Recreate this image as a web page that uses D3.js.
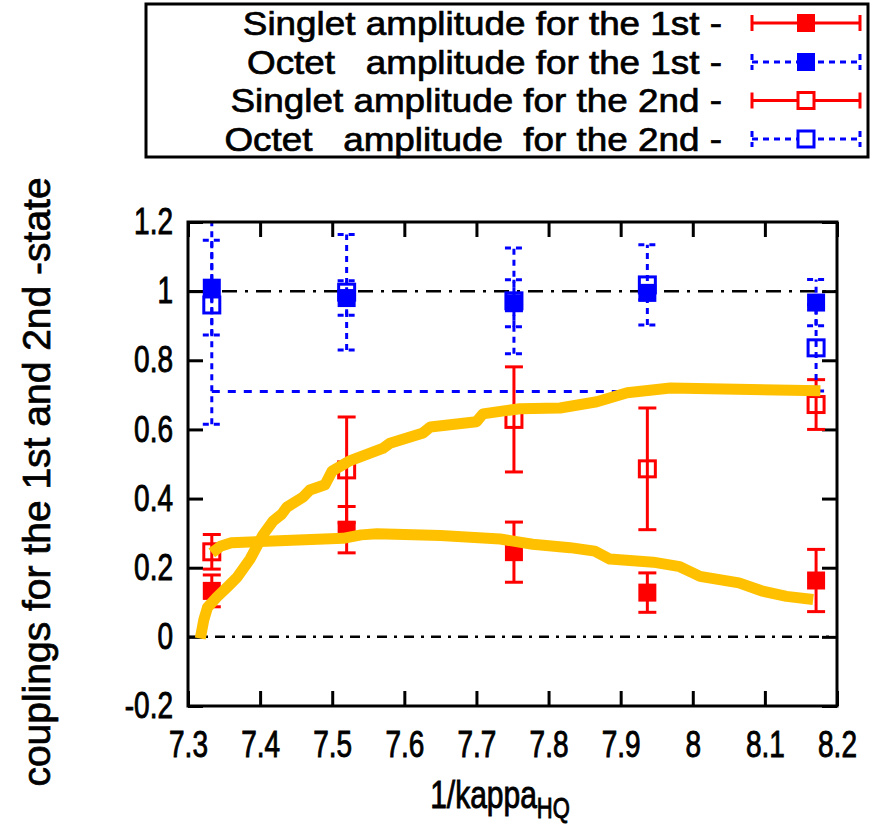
<!DOCTYPE html>
<html><head><meta charset="utf-8">
<script src="https://cdn.jsdelivr.net/npm/d3@7"></script>
<style>
body{margin:0;background:#fff}
text{font-family:"Liberation Sans",Arial,Helvetica,sans-serif;fill:#000;stroke:#000;stroke-width:0.7px}
</style>
</head><body>
<svg id="c" width="882" height="824"></svg>
<script>
// ---- data ----
const xVals = [7.333, 7.52, 7.752, 7.937, 8.171];
const singlet1 = [0.133, 0.31, 0.245, 0.128, 0.163];
const singlet1Err = [0.046, 0.067, 0.087, 0.057, 0.09];
const octet1 = [1.01, 0.98, 0.965, 0.995, 0.967];
const octet1Err = [0.137, 0.05, 0.068, 0.02, 0.067];
const singlet2 = [0.246, 0.483, 0.629, 0.486, 0.672];
const singlet2Err = [0.05, 0.153, 0.152, 0.176, 0.072];
const octet2 = [0.96, 0.997, 0.972, 1.018, 0.836];
const octet2Err = [0.345, 0.167, 0.153, 0.116, 0.125];
const octetGuideX = [7.333, 8.171];
const octetGuideY = [0.71, 0.71];
const riseX = [7.317, 7.322, 7.327, 7.34, 7.355, 7.368, 7.386, 7.404, 7.418, 7.43, 7.437, 7.46, 7.469, 7.49, 7.5, 7.525, 7.57, 7.58, 7.626, 7.636, 7.70, 7.709, 7.76, 7.816, 7.867, 7.909, 7.969, 8.177];
const riseY = [-0.005, 0.05, 0.085, 0.115, 0.145, 0.172, 0.225, 0.295, 0.335, 0.355, 0.375, 0.405, 0.425, 0.44, 0.48, 0.51, 0.545, 0.56, 0.59, 0.607, 0.622, 0.645, 0.66, 0.662, 0.68, 0.706, 0.72, 0.712];
const flatX = [7.333, 7.345, 7.36, 7.4, 7.515, 7.54, 7.562, 7.65, 7.733, 7.778, 7.83, 7.864, 7.885, 7.945, 7.982, 8.0, 8.01, 8.064, 8.097, 8.13, 8.167];
const flatY = [0.243, 0.262, 0.272, 0.276, 0.285, 0.295, 0.298, 0.293, 0.283, 0.268, 0.258, 0.248, 0.225, 0.216, 0.203, 0.185, 0.175, 0.156, 0.132, 0.117, 0.108];
const refLines = [1, 0];
const xTicks = [7.3, 7.4, 7.5, 7.6, 7.7, 7.8, 7.9, 8.0, 8.1, 8.2];
const yTicks = [-0.2, 0, 0.2, 0.4, 0.6, 0.8, 1.0, 1.2];
const legendLabels = ["Singlet amplitude for the 1st -", "Octet   amplitude for the 1st -", "Singlet amplitude for the 2nd -", "Octet   amplitude  for the 2nd -"];
const xLabel = "1/kappa";
const xLabelSub = "HQ";
const yLabel = "couplings for the 1st and 2nd -state";

// ---- layout ----
const L = 188, R = 837, T = 222, B = 706;
const RED = "#ff0000", BLUE = "#0000ff", GOLD = "#ffc000";
const svg = d3.select("#c");
const x = d3.scaleLinear().domain([7.3, 8.2]).range([L, R]);
const y = d3.scaleLinear().domain([-0.2, 1.2]).range([B, T]);
const fmt = d => String(+d.toFixed(1));
const stretch = (cy, k) => `translate(0,${cy}) scale(1,${k}) translate(0,${-cy})`;
const widen = (ax, k) => `translate(${ax},0) scale(${k},1) translate(${-ax},0)`;

svg.append("defs").append("clipPath").attr("id", "clip")
  .append("rect").attr("x", L).attr("y", T).attr("width", R - L).attr("height", B - T);

// axes
function styleAxis(g) {
  g.select(".domain").remove();
  g.selectAll(".tick line").attr("stroke", "#000").attr("stroke-width", 3);
  g.selectAll(".tick text").attr("font-size", 28).attr("fill", "#000")
    .attr("font-family", '"Liberation Sans",Arial,sans-serif');
}
svg.append("g").attr("transform", `translate(0,${B})`)
  .call(d3.axisBottom(x).tickValues(xTicks).tickFormat(fmt).tickSize(-15).tickPadding(28).tickSizeOuter(0))
  .call(styleAxis)
  .call(g => g.selectAll(".tick text").attr("transform", stretch(38, 1.3)));
svg.append("g").attr("transform", `translate(0,${T})`)
  .call(d3.axisTop(x).tickValues(xTicks).tickFormat("").tickSize(-15).tickSizeOuter(0))
  .call(styleAxis);
svg.append("g").attr("transform", `translate(${L},0)`)
  .call(d3.axisLeft(y).tickValues(yTicks).tickFormat(fmt).tickSize(-15).tickPadding(15).tickSizeOuter(0))
  .call(styleAxis)
  .call(g => g.selectAll(".tick text").attr("transform", "scale(1,1.3)"));
svg.append("g").attr("transform", `translate(${R},0)`)
  .call(d3.axisRight(y).tickValues(yTicks).tickFormat("").tickSize(-15).tickSizeOuter(0))
  .call(styleAxis);

// reference dash-dot lines
svg.append("g").selectAll("line").data(refLines).join("line")
  .attr("x1", L).attr("x2", R).attr("y1", d => y(d)).attr("y2", d => y(d))
  .attr("stroke", "#000").attr("stroke-width", 2.5)
  .attr("stroke-dasharray", d => d === 1 ? "15,8,3,8" : "10,7,3,7");

const plot = svg.append("g").attr("clip-path", "url(#clip)");

// blue guide line
plot.append("path")
  .attr("d", d3.line()(octetGuideX.map((d, i) => [x(d), y(octetGuideY[i])])))
  .attr("fill", "none").attr("stroke", BLUE).attr("stroke-width", 3).attr("stroke-dasharray", "8,8");

function series(vals, errs, color, dash, filled) {
  const g = plot.append("g");
  const cap = 9;
  xVals.forEach((xv, i) => {
    const cx = x(xv), lo = y(vals[i] - errs[i]), hi = y(vals[i] + errs[i]);
    const eg = g.append("g").attr("stroke", color).attr("stroke-width", 3).attr("fill", "none");
    if (dash) eg.attr("stroke-dasharray", dash);
    eg.append("line").attr("x1", cx).attr("x2", cx).attr("y1", lo).attr("y2", hi);
    eg.append("line").attr("x1", cx - cap).attr("x2", cx + cap).attr("y1", lo).attr("y2", lo);
    eg.append("line").attr("x1", cx - cap).attr("x2", cx + cap).attr("y1", hi).attr("y2", hi);
    const cy = y(vals[i]);
    if (filled) {
      g.append("rect").attr("x", cx - 9).attr("y", cy - 9).attr("width", 18).attr("height", 18).attr("fill", color);
    } else {
      g.append("rect").attr("x", cx - 8).attr("y", cy - 8).attr("width", 16).attr("height", 16)
        .attr("fill", "none").attr("stroke", color).attr("stroke-width", 3);
    }
  });
}
series(singlet1, singlet1Err, RED, null, true);
series(octet1, octet1Err, BLUE, "6,5", true);
series(singlet2, singlet2Err, RED, null, false);
series(octet2, octet2Err, BLUE, "6,5", false);

// gold curves
const line = d3.line().x(d => x(d[0])).y(d => y(d[1]));
[[riseX, riseY], [flatX, flatY]].forEach(([xs, ys]) => {
  plot.append("path").attr("d", line(xs.map((d, i) => [d, ys[i]])))
    .attr("fill", "none").attr("stroke", GOLD).attr("stroke-width", 11)
    .attr("stroke-linejoin", "round").attr("stroke-linecap", "butt");
});

// frame
svg.append("rect").attr("x", L).attr("y", T).attr("width", R - L).attr("height", B - T)
  .attr("fill", "none").attr("stroke", "#000").attr("stroke-width", 3);

// legend
const lg = svg.append("g");
lg.append("rect").attr("x", 146).attr("y", 4).attr("width", 722).attr("height", 153)
  .attr("fill", "#fff").attr("stroke", "#000").attr("stroke-width", 3);
const legendStyles = [
  {c: RED, dash: null, filled: true},
  {c: BLUE, dash: "6,5", filled: true},
  {c: RED, dash: null, filled: false},
  {c: BLUE, dash: "6,5", filled: false}
];
const rowY = [23, 62, 100.5, 139];
legendLabels.forEach((lab, i) => {
  const cy = rowY[i];
  lg.append("text").attr("x", 722).attr("y", cy + 12).attr("text-anchor", "end")
    .attr("transform", widen(722, 1.1))
    .attr("font-size", 33.5).style("white-space", "pre").attr("xml:space", "preserve").text(lab);
  const s = legendStyles[i];
  const sg = lg.append("g").attr("stroke", s.c).attr("stroke-width", 3);
  if (s.dash) sg.attr("stroke-dasharray", s.dash);
  sg.append("line").attr("x1", 752).attr("x2", 860).attr("y1", cy).attr("y2", cy);
  sg.append("line").attr("x1", 752).attr("x2", 752).attr("y1", cy - 8).attr("y2", cy + 8);
  sg.append("line").attr("x1", 860).attr("x2", 860).attr("y1", cy - 8).attr("y2", cy + 8);
  if (s.filled) {
    lg.append("rect").attr("x", 797).attr("y", cy - 9).attr("width", 18).attr("height", 18).attr("fill", s.c);
  } else {
    lg.append("rect").attr("x", 798).attr("y", cy - 8).attr("width", 16).attr("height", 16)
      .attr("fill", "#fff").attr("stroke", s.c).attr("stroke-width", 3);
  }
});

// axis labels
const xl = svg.append("text").attr("x", 500).attr("y", 808).attr("text-anchor", "middle")
  .attr("font-size", 30).attr("transform", stretch(808, 1.3));
xl.append("tspan").text(xLabel);
xl.append("tspan").attr("font-size", 22).attr("dy", 8).text(xLabelSub);
svg.append("text").attr("transform", "translate(50,482) rotate(-90)")
  .attr("text-anchor", "middle").attr("font-size", 39).text(yLabel);
</script>
</body></html>
